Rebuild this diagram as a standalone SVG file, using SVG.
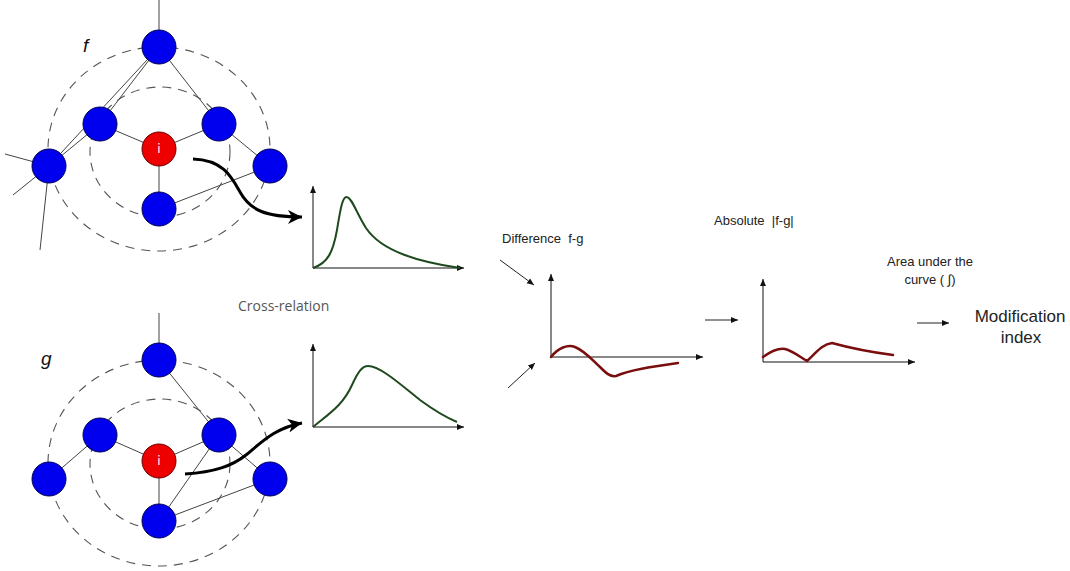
<svg xmlns="http://www.w3.org/2000/svg" width="1070" height="571" viewBox="0 0 1070 571">
<defs>
<style>
.edge{stroke:#444;stroke-width:1;fill:none}
.dash{stroke:#555;stroke-width:1.1;fill:none;stroke-dasharray:9,7}
.bn{fill:#0000ee;stroke:#000055;stroke-width:1}
.rn{fill:#ee0000;stroke:#660000;stroke-width:1}
.lbl{font-family:"DejaVu Sans",sans-serif;font-size:12px;fill:#fff;text-anchor:middle}
.var{font-family:"Liberation Sans",Arial,sans-serif;font-style:italic;font-size:19px;fill:#111}
.axis{stroke:#111;stroke-width:1;fill:none}
.gc{stroke:#1e4a1e;stroke-width:2;fill:none}
.rc{stroke:#7a0e0e;stroke-width:2.5;fill:none;stroke-linecap:round}
.big{stroke:#000;stroke-width:3;fill:none}
.thin{stroke:#222;stroke-width:1;fill:none}
.t{font-family:"Liberation Sans",Arial,sans-serif;font-size:13px;fill:#222;white-space:pre}
.cr{font-family:"Open Sans","DejaVu Sans",sans-serif;font-size:14px;fill:#555}
.mi{font-family:"Liberation Sans",Arial,sans-serif;font-size:17px;fill:#222;text-anchor:middle}
</style>
<marker id="ah" markerWidth="8" markerHeight="8" refX="7" refY="4" orient="auto" markerUnits="userSpaceOnUse"><path d="M0,1 L7,4 L0,7 Z" fill="#111"/></marker>
<marker id="bh" markerWidth="16" markerHeight="14" refX="14" refY="7" orient="auto" markerUnits="userSpaceOnUse"><path d="M0,0 L14,7 L0,14 L4,7 Z" fill="#000"/></marker>
</defs>

<g id="graph-f">
<ellipse class="dash" cx="159" cy="149" rx="111" ry="102"/>
<ellipse class="dash" cx="160" cy="152" rx="70" ry="65"/>
<g class="edges-f">
<line class="edge" x1="159" y1="0" x2="159" y2="47"/>
<line class="edge" x1="159" y1="47" x2="49" y2="166"/>
<line class="edge" x1="159" y1="47" x2="100" y2="124"/>
<line class="edge" x1="159" y1="47" x2="219" y2="124"/>
<line class="edge" x1="100" y1="124" x2="159" y2="149"/>
<line class="edge" x1="219" y1="124" x2="159" y2="149"/>
<line class="edge" x1="100" y1="124" x2="49" y2="166"/>
<line class="edge" x1="219" y1="124" x2="270" y2="166"/>
<line class="edge" x1="159" y1="149" x2="159" y2="209"/>
<line class="edge" x1="159" y1="209" x2="270" y2="166"/>
<line class="edge" x1="49" y1="166" x2="5" y2="154"/>
<line class="edge" x1="49" y1="166" x2="13" y2="195"/>
<line class="edge" x1="49" y1="166" x2="40" y2="250"/>
</g>
<circle id="f-top" class="bn" cx="159" cy="47" r="17"/>
<circle id="f-lm" class="bn" cx="100" cy="124" r="17"/>
<circle id="f-rm" class="bn" cx="219" cy="124" r="17"/>
<circle id="f-fl" class="bn" cx="49" cy="166" r="17"/>
<circle id="f-fr" class="bn" cx="270" cy="166" r="17"/>
<circle id="f-bot" class="bn" cx="159" cy="209" r="17"/>
<g id="f-i"><circle class="rn" cx="159" cy="149" r="17"/><text class="lbl" x="159" y="153">i</text></g>
<text class="var" x="83" y="52">f</text>
</g>

<g id="graph-g">
<ellipse class="dash" cx="159" cy="463" rx="111" ry="103"/>
<ellipse class="dash" cx="160" cy="464" rx="70" ry="65"/>
<g class="edges-g">
<line class="edge" x1="159" y1="313" x2="159" y2="360"/>
<line class="edge" x1="159" y1="360" x2="219" y2="435"/>
<line class="edge" x1="100" y1="435" x2="49" y2="479"/>
<line class="edge" x1="100" y1="435" x2="159" y2="461"/>
<line class="edge" x1="219" y1="435" x2="159" y2="461"/>
<line class="edge" x1="219" y1="435" x2="270" y2="479"/>
<line class="edge" x1="159" y1="461" x2="159" y2="521"/>
<line class="edge" x1="159" y1="521" x2="219" y2="435"/>
<line class="edge" x1="159" y1="521" x2="270" y2="479"/>
</g>
<circle id="g-top" class="bn" cx="159" cy="360" r="17"/>
<circle id="g-lm" class="bn" cx="100" cy="435" r="17"/>
<circle id="g-rm" class="bn" cx="219" cy="435" r="17"/>
<circle id="g-fl" class="bn" cx="49" cy="479" r="17"/>
<circle id="g-fr" class="bn" cx="270" cy="479" r="17"/>
<circle id="g-bot" class="bn" cx="159" cy="521" r="17"/>
<g id="g-i"><circle class="rn" cx="159" cy="461" r="17"/><text class="lbl" x="159" y="465">i</text></g>
<text class="var" x="41" y="365">g</text>
</g>

<g id="chart-f">
<path class="axis" d="M313,268 V186" marker-end="url(#ah)"/>
<path class="axis" d="M313,268 H464" marker-end="url(#ah)"/>
<path class="gc" d="M313,268 C328,263 333,252 337,230 C341,205 343,196 347,197 C352,198 356,212 366,228 C382,252 420,262 460,268"/>
</g>
<g id="chart-g">
<path class="axis" d="M313,427 V344" marker-end="url(#ah)"/>
<path class="axis" d="M313,427 H464" marker-end="url(#ah)"/>
<path class="gc" d="M313,427 C330,413 343,405 352,385 C358,372 362,366 368,366 C380,366 400,384 420,400 C435,411 445,417 457,422"/>
</g>
<text id="cross" class="cr" x="238" y="311">Cross-relation</text>

<g id="chart-diff">
<path class="axis" d="M551,357 V274" marker-end="url(#ah)"/>
<path class="axis" d="M551,357 H703" marker-end="url(#ah)"/>
<path class="rc" d="M551,357 C558,348 568,344 575,347 C585,351 592,360 600,367 C606,373 610,377 616,376 C630,370 650,367 678,363"/>
</g>
<text class="t" x="502" y="243" xml:space="preserve">Difference  f-g</text>

<g id="chart-abs">
<path class="axis" d="M763,362 V279" marker-end="url(#ah)"/>
<path class="axis" d="M763,362 H915" marker-end="url(#ah)"/>
<path class="rc" d="M763,357 C770,352 778,348 785,349 C793,351 800,357 807,361 C815,354 822,344 832,343 C850,348 870,352 893,355"/>
</g>
<text class="t" x="714" y="225" xml:space="preserve">Absolute  |f-g|</text>

<g id="result">
<text class="t" x="930" y="266" text-anchor="middle">Area under the</text>
<text class="t" x="930" y="284" text-anchor="middle">curve ( ∫)</text>
<text class="mi" x="1020" y="322">Modification</text>
<text class="mi" x="1021" y="343">index</text>
</g>

<g id="connectors">
<path class="big" d="M193,159 C224,160 232,178 240,192 C250,210 265,217 302,217" marker-end="url(#bh)"/>
<path class="big" d="M185,474 C215,472 232,466 246,455 C262,442 275,428 302,423" marker-end="url(#bh)"/>
<line class="thin" x1="500" y1="260" x2="534" y2="285" marker-end="url(#ah)"/>
<line class="thin" x1="508" y1="388" x2="535" y2="363" marker-end="url(#ah)"/>
<line class="thin" x1="705" y1="320" x2="738" y2="320" marker-end="url(#ah)"/>
<line class="thin" x1="917" y1="323" x2="949" y2="323" marker-end="url(#ah)"/>
</g>
</svg>
